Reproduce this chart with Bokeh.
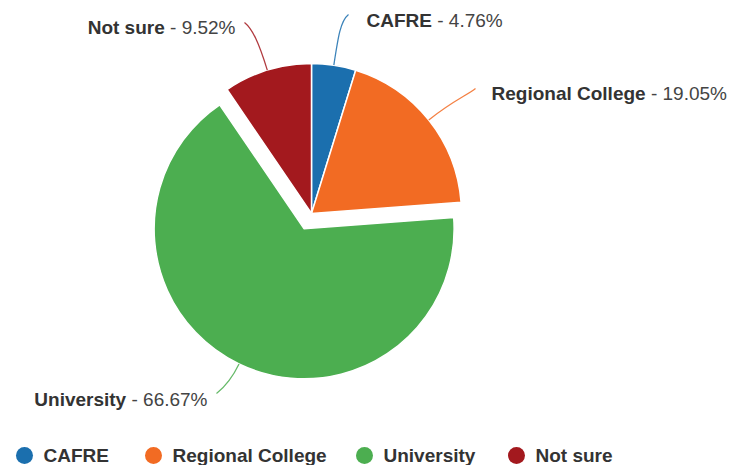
import math
from bokeh.plotting import figure
from bokeh.models import Range1d, ColumnDataSource
from bokeh.embed import file_html
from bokeh.resources import INLINE
from bokeh.core.properties import value

# ---- data ----
categories = ["CAFRE", "Regional College", "University", "Not sure"]
percentages = [4.76, 19.05, 66.67, 9.52]
colors = ["#1b6fae", "#f26b23", "#4cae50", "#a3191e"]
sliced = [False, False, True, False]

# ---- layout (page pixel coordinates) ----
W, H = 731, 465
CENTER = (311, 213)
RADIUS = 150
SLICE_OFFSET = 17
# connector end point, text side, text anchor x, text middle y
label_layout = [
    dict(end=(348, 14), side="right", tx=366, ty=20),
    dict(end=(475, 88), side="right", tx=491, ty=93),
    dict(end=(216, 393), side="left", tx=207, ty=399),
    dict(end=(244, 22), side="left", tx=235, ty=27),
]
legend_x = [24, 153, 364, 516]
legend_y = 455
FONT = "Liberation Sans"
FS = 19
TEXT_COLOR = "#333333"

BOLD_W = {" ": 278, "-": 333, ".": 278, "%": 889, "A": 722, "C": 722, "E": 667, "F": 611,
          "N": 722, "R": 722, "U": 722, "a": 556, "e": 556, "g": 611, "i": 278, "l": 278,
          "n": 611, "o": 611, "r": 389, "s": 556, "t": 333, "u": 611, "v": 556, "y": 556}
REG_W = {" ": 278, "-": 333, ".": 278, "%": 889}


def text_w(s, table):
    return sum(table.get(c, 556) for c in s) * FS / 1000.0


def X(px):
    return px


def Y(py):
    return H - py


p = figure(width=W, height=H, x_range=Range1d(0, W), y_range=Range1d(0, H),
           output_backend="svg", toolbar_location=None, min_border=0,
           x_axis_type=None, y_axis_type=None)
p.grid.visible = False
p.outline_line_color = None
p.background_fill_color = "white"
p.border_fill_color = "white"

total = sum(percentages)
cx0, cy0 = X(CENTER[0]), Y(CENTER[1])
wx, wy, sa, ea, mids = [], [], [], [], []
f = 0.0
for v, s in zip(percentages, sliced):
    f0, f1 = f, f + v / total
    f = f1
    a_start = math.pi / 2 - 2 * math.pi * f1
    a_end = math.pi / 2 - 2 * math.pi * f0
    mid = (a_start + a_end) / 2
    off = SLICE_OFFSET if s else 0
    wx.append(cx0 + off * math.cos(mid))
    wy.append(cy0 + off * math.sin(mid))
    sa.append(a_start)
    ea.append(a_end)
    mids.append(mid)

src = ColumnDataSource(dict(x=wx, y=wy, sa=sa, ea=ea, color=colors))
p.wedge(x="x", y="y", radius=RADIUS, start_angle="sa", end_angle="ea",
        direction="anticlock", fill_color="color", line_color="white", line_width=1.5,
        source=src)

SPACE = text_w(" ", REG_W)

# connectors and labels
for i, (name, v, col) in enumerate(zip(categories, percentages, colors)):
    lay = label_layout[i]
    mid = mids[i]
    sx = wx[i] + RADIUS * math.cos(mid)
    sy = wy[i] + RADIUS * math.sin(mid)
    ex, ey = X(lay["end"][0]), Y(lay["end"][1])
    L = math.hypot(ex - sx, ey - sy)
    hdir = 1 if lay["side"] == "right" else -1
    c0x = sx + 0.55 * L * math.cos(mid)
    c0y = sy + 0.55 * L * math.sin(mid)
    vdir = 1 if ey > sy else -1
    c1x = ex - hdir * 0.15 * L
    c1y = ey - vdir * 0.12 * L
    p.bezier(x0=[sx], y0=[sy], x1=[ex], y1=[ey], cx0=[c0x], cy0=[c0y], cx1=[c1x], cy1=[c1y],
             line_color=col, line_width=1.3, line_alpha=0.85)

    bold = name
    reg = "- %.2f%%" % v
    ty = Y(lay["ty"])
    if lay["side"] == "right":
        bx = X(lay["tx"])
        rx = bx + text_w(bold, BOLD_W) + SPACE
    else:
        rx = X(lay["tx"]) - text_w(reg, REG_W)
        bx = rx - SPACE - text_w(bold, BOLD_W)
    p.text(x=[bx], y=[ty], text=[bold], text_font=value(FONT), text_font_size="%dpx" % FS,
           text_font_style="bold", text_color=TEXT_COLOR, text_align="left",
           text_baseline="middle")
    p.text(x=[rx], y=[ty], text=[reg], text_font=value(FONT), text_font_size="%dpx" % FS,
           text_font_style="normal", text_color="#444444", text_align="left",
           text_baseline="middle")

# legend
lsrc = ColumnDataSource(dict(x=[X(v) for v in legend_x], y=[Y(legend_y)] * len(legend_x),
                             tx=[X(v) + 19 for v in legend_x], label=categories, color=colors))
p.scatter(x="x", y="y", size=17, marker="circle", fill_color="color", line_color=None, source=lsrc)
p.text(x="tx", y="y", text="label", text_font=value(FONT), text_font_size="%dpx" % FS,
       text_font_style="bold", text_color=TEXT_COLOR, text_align="left", text_baseline="middle",
       source=lsrc)

open("out.html", "w").write(file_html(p, INLINE))
